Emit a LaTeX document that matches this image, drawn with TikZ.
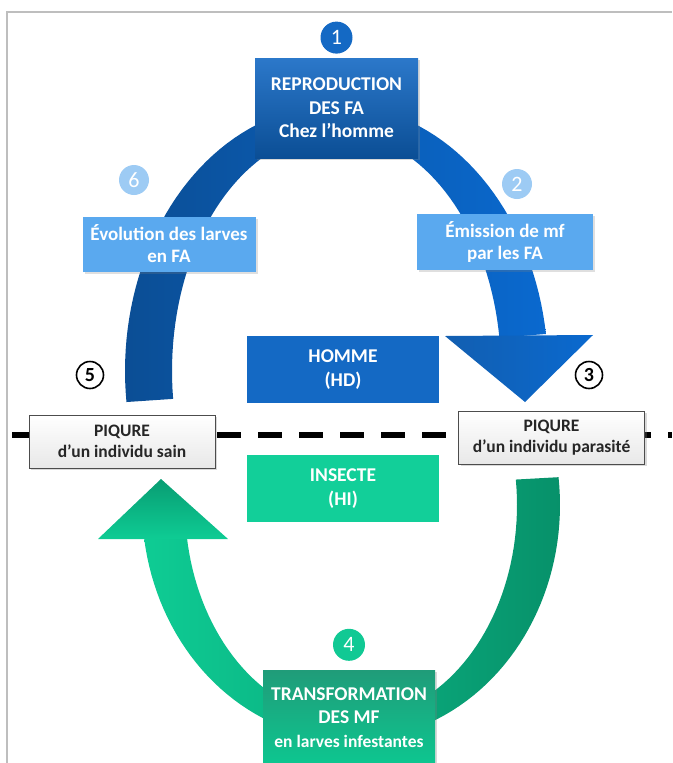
\documentclass[tikz,border=0pt]{standalone}
\usepackage{fontspec}
\setmainfont{Carlito}
\usetikzlibrary{shadows,positioning}

\definecolor{darkblue}{HTML}{0B4E95}
\definecolor{midblue}{HTML}{0A69CF}
\definecolor{boxblue}{HTML}{1469C4}
\definecolor{paleblue}{HTML}{5AA9EF}
\definecolor{dotblue}{HTML}{9DCBF4}
\definecolor{lightgreen}{HTML}{0ECC94}
\definecolor{darkgreen}{HTML}{07916A}
\definecolor{boxgreen}{HTML}{12CF99}
\definecolor{framegrey}{HTML}{BEBEBE}

\begin{document}
\begin{tikzpicture}[x=1pt,y=-1pt,
	stagebox/.style={rectangle, inner sep=0pt, text=white, align=center,
		font=\bfseries\fontsize{19.5}{23.5}\selectfont},
	notebox/.style={rectangle, fill=paleblue, inner sep=0pt, text=white, align=center,
		font=\bfseries\fontsize{19}{22}\selectfont,
		drop shadow={opacity=0.25, shadow xshift=2pt, shadow yshift=-2pt}},
	bitebox/.style={rectangle, draw=black!70, line width=0.9pt, inner sep=0pt,
		top color=white, bottom color=black!9, text=black!85, align=center,
		minimum width=186pt, minimum height=53pt,
		font=\bfseries\fontsize{17.5}{20.5}\selectfont,
		drop shadow={opacity=0.3, shadow xshift=2pt, shadow yshift=-2pt}},
	numdot/.style={circle, minimum size=32pt, inner sep=0pt, text=white,
		font=\fontsize{22}{22}\selectfont},
	numring/.style={circle, draw=black, line width=1.6pt, minimum size=27pt, inner sep=0pt,
		font=\bfseries\fontsize{20}{20}\selectfont}]

	\useasboundingbox (0,0) rectangle (672,763);
	\draw[framegrey, line width=1.5pt] (7,763) -- (7,12) -- (672,12);

	% upper loop (homme)
	\shade[left color=darkblue, right color=midblue]
		plot[domain=8:186.7, samples=80] ({336.5+211.5*cos(\x)},{371-266*sin(\x)})
		-- plot[domain=186.7:8, samples=80] ({336.5+164.5*cos(\x)},{371-239*sin(\x)}) -- cycle;
	\shade[left color=boxblue!90!black, right color=midblue]
		(445,336) -- (593,335) -- (525,402) -- cycle;

	% lower loop (insecte)
	\shade[left color=lightgreen, right color=darkgreen]
		plot[domain=188.3:366.8, samples=80] ({351+209*cos(\x)},{505-235*sin(\x)})
		-- plot[domain=366.8:188.3, samples=80] ({351+166*cos(\x)},{505-215*sin(\x)}) -- cycle;
	\shade[top color=darkgreen!80!lightgreen, bottom color=lightgreen]
		(98,539) -- (228,539) -- (161,479) -- cycle;

	\node[stagebox, top color=boxblue!90!white, bottom color=darkblue, minimum width=163pt, minimum height=100pt,
		drop shadow={opacity=0.3, shadow xshift=2pt, shadow yshift=-2pt}]
		(repro) at (336.5,108) {REPRODUCTION\\DES FA\\Chez l’homme};
	\node[numdot, fill=boxblue] (n1) [above=4pt of repro] {1};

	\node[notebox, minimum width=173pt, minimum height=55pt] (evol) at (169,244) {Évolution des larves\\en FA};
	\node[numdot, fill=dotblue, minimum size=30pt] (n6) at (134,180) {6};
	\node[notebox, minimum width=176pt, minimum height=56pt] (emis) at (505,242) {Émission de mf\\par les FA};
	\node[numdot, fill=dotblue, minimum size=30pt] (n2) at (517,184) {2};

	\node[stagebox, fill=boxblue, minimum width=192pt, minimum height=67pt] (homme) at (343,369.5) {HOMME\\(HD)};
	\node[stagebox, fill=boxgreen, minimum width=192pt, minimum height=67pt] (insecte) at (343,488.5) {INSECTE\\(HI)};

	\coordinate (sepL) at (12,435);
	\coordinate (sepR) at (672,435);
	\draw[line width=6pt, dash pattern=on 24pt off 17pt] (sepL) -- (sepR);

	\node[bitebox] (sain) at (122,441.5) {PIQURE\\d’un individu sain};
	\node[bitebox] (parasite) at (551.5,437.5) {PIQURE\\d’un individu parasité};
	\node[numring] (n5) at (90,375) {5};
	\node[numring] (n3) at (589,375) {3};

	\node[stagebox, top color=darkgreen!90!white, bottom color=lightgreen!90!darkgreen, minimum width=172pt, minimum height=94pt,
		anchor=north, drop shadow={opacity=0.3, shadow xshift=2pt, shadow yshift=-2pt}]
		(transf) at (349,670) {TRANSFORMATION\\DES MF\\{\fontsize{17.5}{20}\selectfont en larves infestantes}};
	\node[numdot, fill=boxgreen!90!darkgreen] (n4) [above=9pt of transf] {4};

\end{tikzpicture}
\end{document}
